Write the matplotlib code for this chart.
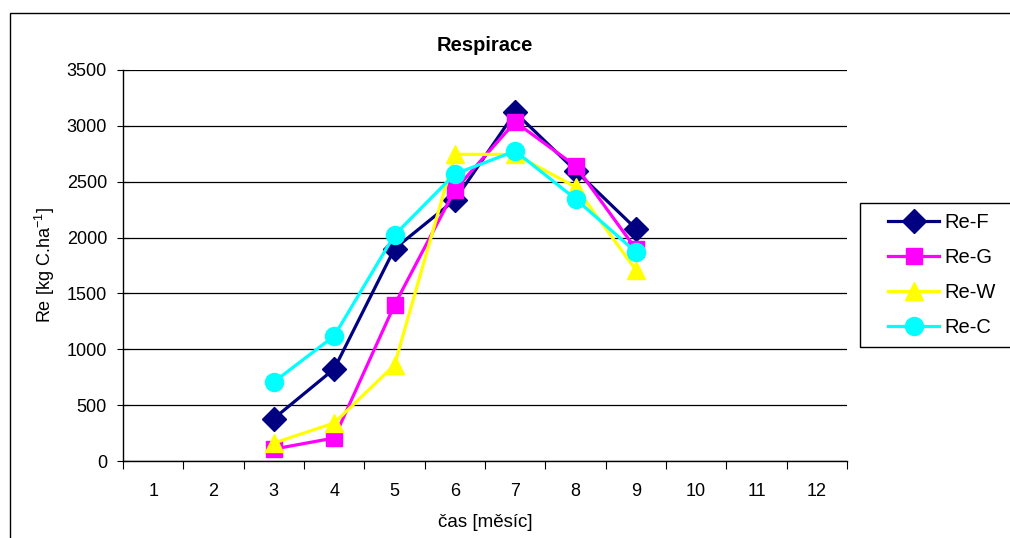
import matplotlib
matplotlib.use("Agg")
import matplotlib.pyplot as plt
from matplotlib.patches import Rectangle

months = [1, 2, 3, 4, 5, 6, 7, 8, 9, 10, 11, 12]
x_data = [3, 4, 5, 6, 7, 8, 9]
re_f = [380, 824, 1900, 2337, 3120, 2600, 2080]
re_g = [107, 206, 1397, 2426, 3035, 2641, 1898]
re_w = [161, 340, 859, 2745, 2745, 2453, 1710]
re_c = [707, 1119, 2023, 2569, 2775, 2346, 1871]
series = [("Re-F", re_f, "#000080", "D", 12),
          ("Re-G", re_g, "#FF00FF", "s", 12),
          ("Re-W", re_w, "#FFFF00", "^", 13),
          ("Re-C", re_c, "#00FFFF", "o", 13)]

plt.rcParams['font.family'] = ['Liberation Sans', 'DejaVu Sans']
plt.rcParams['mathtext.fontset'] = 'custom'
plt.rcParams['mathtext.rm'] = 'Liberation Sans'

fig = plt.figure(figsize=(10.1, 5.38), dpi=100)
W, H = 1010, 538
ax = fig.add_axes([123 / W, 1 - 461 / H, (847 - 123) / W, (461 - 70) / H])

# outer chart border
fig.patches.append(Rectangle((10 / W, -0.1), 1.2, 1 - 13 / H + 0.1,
                             transform=fig.transFigure, fill=False,
                             edgecolor="black", linewidth=1.0))
# legend frame
fig.patches.append(Rectangle((860 / W, 1 - 347 / H), 1.0, (347 - 203) / H,
                             transform=fig.transFigure, fill=False,
                             edgecolor="black", linewidth=1.0))

for name, vals, col, mk, ms in series:
    ax.plot(x_data, vals, color=col, marker=mk, markersize=ms, linewidth=2.3,
            markeredgecolor=col, label=name, zorder=3)

ax.set_xlim(0.5, 12.5)
ax.set_ylim(0, 3500)
ax.set_yticks(range(0, 3501, 500))
ax.set_xticks(months)
ax.set_xticklabels([str(m) for m in months])
ax.set_xticks([m + 0.5 for m in range(0, 13)], minor=True)
ax.tick_params(axis="x", which="major", length=0, pad=16, labelsize=13)
ax.tick_params(axis="x", which="minor", length=6, direction="out", width=0.8)
ax.tick_params(axis="y", which="major", length=9, direction="inout", width=0.8,
               labelsize=13, pad=7)
ax.grid(axis="y", color="black", linewidth=0.9)
ax.set_axisbelow(True)
for s in ["top", "right"]:
    ax.spines[s].set_visible(False)
for s in ["left", "bottom"]:
    ax.spines[s].set_linewidth(1.0)

ax.set_title("Respirace", fontsize=14.5, fontweight="bold", pad=14)
ax.set_xlabel("čas [měsíc]", fontsize=13.5, labelpad=10)
ax.set_ylabel("Re [kg C.ha$^{\\mathrm{-1}}$]", fontsize=13, labelpad=7)

leg = ax.legend(loc="upper left", bbox_to_anchor=(884 / W, 1 - 209 / H),
                bbox_transform=fig.transFigure, fontsize=14.5, frameon=False,
                borderpad=0.2, handlelength=2.55, handletextpad=0.25,
                labelspacing=0.8, borderaxespad=0)

fig.savefig("out.png", dpi=100)
